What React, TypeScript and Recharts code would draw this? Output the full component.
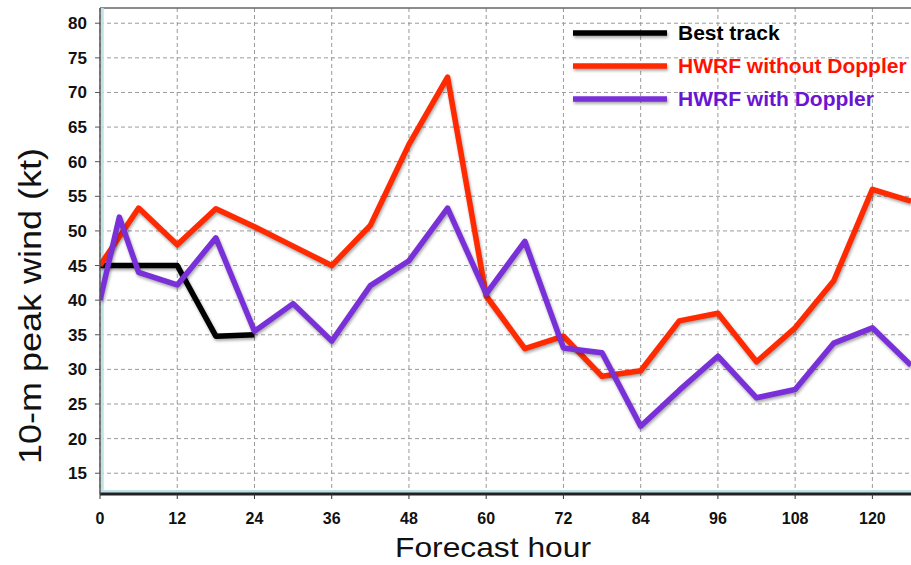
import { LineChart, Line, XAxis, YAxis, CartesianGrid, ReferenceLine } from 'recharts';

const hourTicks = [0, 12, 24, 36, 48, 60, 72, 84, 96, 108, 120];
const windTicks = [15, 20, 25, 30, 35, 40, 45, 50, 55, 60, 65, 70, 75, 80];

const bestHours = [0, 6, 12, 18, 24];
const bestWind = [45, 45, 45, 34.8, 35];

const noDopplerHours = [0, 6, 12, 18, 24, 30, 36, 42, 48, 54, 60, 66, 72, 78, 84, 90, 96, 102, 108, 114, 120, 126];
const noDopplerWind = [45, 53.3, 48, 53.2, 50.6, 47.8, 45, 50.8, 62.5, 72.2, 40.6, 33, 34.8, 29, 29.8, 37, 38.1, 31.1, 36, 42.8, 56, 54.3];

const dopplerHours = [0, 3, 6, 12, 18, 24, 30, 36, 42, 48, 54, 60, 66, 72, 78, 84, 90, 96, 102, 108, 114, 120, 126];
const dopplerWind = [40, 52, 44, 42.2, 49, 35.5, 39.5, 34.1, 42.1, 45.7, 53.3, 40.9, 48.5, 33.1, 32.4, 21.8, 27, 31.9, 25.9, 27.1, 33.8, 36, 30.6];

const toRows = (hours: number[], vals: number[]) => hours.map((h, i) => ({ h, v: vals[i] }));

const RED = '#ff2a00';
const PURPLE = '#7a30d8';

const series = [
  { name: 'Best track', data: toRows(bestHours, bestWind), color: '#000000', text: '#000000' },
  { name: 'HWRF without Doppler', data: toRows(noDopplerHours, noDopplerWind), color: RED, text: '#ff1100' },
  { name: 'HWRF with Doppler', data: toRows(dopplerHours, dopplerWind), color: PURPLE, text: '#6a14d4' },
];

const font = 'Liberation Sans, Arial, Helvetica, sans-serif';

function YLabel() {
  return (
    <text
      x={41}
      y={306}
      transform="rotate(-90, 41, 306)"
      textAnchor="middle"
      fontFamily={font}
      fontSize={32}
      textLength={316}
      lengthAdjust="spacingAndGlyphs"
      fill="#111"
    >
      10-m peak wind (kt)
    </text>
  );
}

function XLabel() {
  return (
    <text x={493} y={557} textAnchor="middle" fontFamily={font} fontSize={28} textLength={196} lengthAdjust="spacingAndGlyphs" fill="#111">
      Forecast hour
    </text>
  );
}

function Legend() {
  return (
    <div style={{ position: 'absolute', left: 572, top: 16, fontFamily: font, fontWeight: 'bold', fontSize: 21 }}>
      {series.map((s) => (
        <div key={s.name} style={{ display: 'flex', alignItems: 'center', height: 33, whiteSpace: 'nowrap' }}>
          <svg width={106} height={12} style={{ overflow: 'visible' }}>
            <line x1={1} y1={6} x2={95} y2={6} stroke={s.color} strokeWidth={5.5} className="shadowed" />
          </svg>
          <span style={{ color: s.text }}>{s.name}</span>
        </div>
      ))}
    </div>
  );
}

export default function App() {
  return (
    <div style={{ position: 'absolute', left: 0, top: 0, width: 911, height: 565, overflow: 'hidden', background: '#fff' }}>
      <style>{`.shadowed { filter: drop-shadow(1px 2px 1.5px rgba(0,0,0,0.35)); }`}</style>
      <LineChart width={911} height={565} margin={{ top: 8, right: 0, left: 0, bottom: 0 }}>
        <CartesianGrid stroke="#9a9a9a" strokeDasharray="4 3" horizontalValues={windTicks} verticalValues={hourTicks} />
        <ReferenceLine y={82.2} stroke="#666" strokeWidth={1.5} />
        <ReferenceLine y={12.35} stroke="#bfe2e6" strokeWidth={3} />
        <ReferenceLine x={0.35} stroke="#bfe2e6" strokeWidth={3} />
        <XAxis
          dataKey="h"
          type="number"
          domain={[0, 126]}
          ticks={hourTicks}
          allowDataOverflow
          height={71}
          axisLine={{ stroke: '#222', strokeWidth: 3 }}
          tickLine={{ stroke: '#333' }}
          tickSize={5}
          tickMargin={14}
          tick={{ fill: '#111', fontSize: 16, fontWeight: 'bold', fontFamily: font }}
          label={<XLabel />}
        />
        <YAxis
          type="number"
          domain={[12, 82.2]}
          ticks={windTicks}
          allowDataOverflow
          width={100}
          axisLine={{ stroke: '#555', strokeWidth: 1.5 }}
          tickLine={{ stroke: '#555' }}
          tickSize={5}
          tickMargin={8}
          tick={{ fill: '#111', fontSize: 17, fontWeight: 'bold', fontFamily: font }}
          label={<YLabel />}
        />
        {series.map((s) => (
          <Line
            key={s.name}
            data={s.data}
            dataKey="v"
            type="linear"
            stroke={s.color}
            strokeWidth={5.5}
            strokeLinejoin="round"
            dot={false}
            activeDot={false}
            className="shadowed"
            isAnimationActive={false}
          />
        ))}
      </LineChart>
      <Legend />
    </div>
  );
}
